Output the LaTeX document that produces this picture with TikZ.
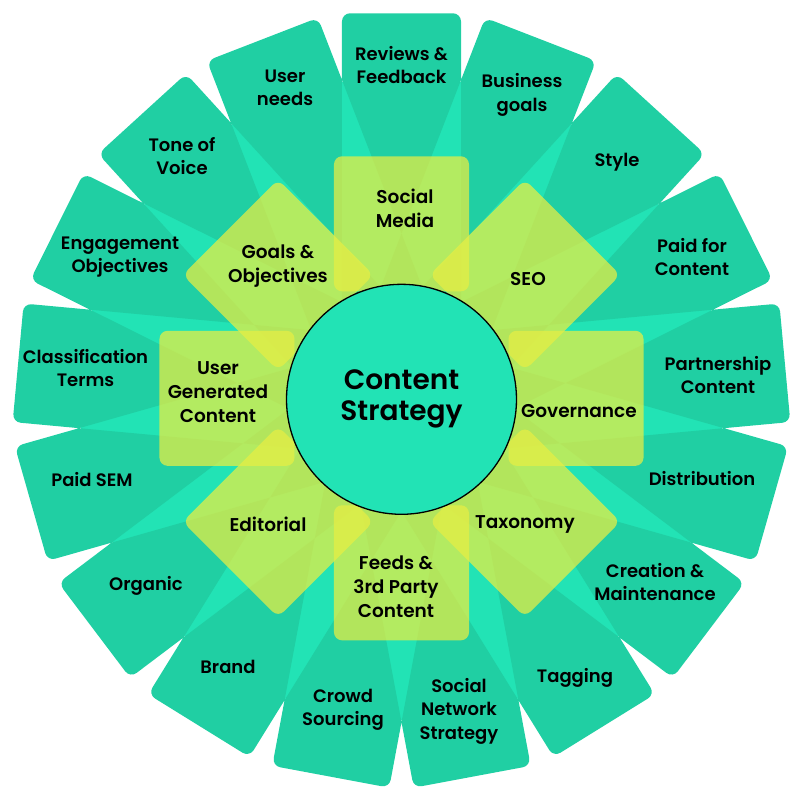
\documentclass[tikz,border=0pt]{standalone}
\usepackage{fontspec}
\setmainfont{Poppins}[BoldFont={* SemiBold}]
\definecolor{lightteal}{HTML}{22E3B5}
\definecolor{cardteal}{HTML}{20CFA3}
\definecolor{sqyellow}{HTML}{E6EE44}
\begin{document}
\begin{tikzpicture}[x=1pt,y=1pt,
  lbl/.style={align=center,font=\fontsize{18}{23.5}\selectfont\bfseries,text=black,inner sep=0pt},
  sqlbl/.style={align=center,font=\fontsize{18.5}{24}\selectfont\bfseries,text=black,inner sep=0pt},
  card/.style={fill=cardteal,even odd rule,rounded corners=8pt},
  sq/.style={fill=sqyellow,fill opacity=0.74,rounded corners=8pt}]
\useasboundingbox (-401.5,-401.7) rectangle (398.5,398.3);
% background disc
\fill[lightteal] (0,0) circle (322);
% outer cards (even-odd so overlaps show lighter)
\fill[card]
  \foreach \k [evaluate=\k as \a using {90-\k*360/17}] in {0,...,16} {
    ([rotate=\a]0,-59.5) -- ([rotate=\a]385,-59.5) -- ([rotate=\a]385,59.5) -- ([rotate=\a]0,59.5) -- cycle
  };
% inner squares
\foreach \j [evaluate=\j as \a using {90-\j*45}] in {0,...,7} {
  \fill[sq] ([rotate=\a]107,-67.5) -- ([rotate=\a]242,-67.5) -- ([rotate=\a]242,67.5) -- ([rotate=\a]107,67.5) -- cycle;
}
% centre
\node (centre) [circle,minimum size=230pt,inner sep=0pt,fill=lightteal,draw=black,line width=1.3pt,
  align=center,font=\fontsize{28}{31}\selectfont\bfseries] at (0,-1) {Content\\Strategy};
% outer labels
\node (o1)  [lbl] at (0,333.3) {Reviews \&\\Feedback};
\node (o2)  [lbl] at (120.5,303.3) {Business\\goals};
\node (o3)  [lbl] at (215.5,236.3) {Style};
\node (o4)  [lbl] at (290.5,141.3) {Paid for\\Content};
\node (o5)  [lbl] at (316.5,23.3) {Partnership\\Content};
\node (o6)  [lbl] at (300.5,-80.7) {Distribution};
\node (o7)  [lbl] at (253.5,-183.7) {Creation \&\\Maintenance};
\node (o8)  [lbl] at (173.5,-279.7) {Tagging};
\node (o9)  [lbl] at (57.5,-312.7) {Social\\Network\\Strategy};
\node (o10) [lbl] at (-58.5,-311.7) {Crowd\\Sourcing};
\node (o11) [lbl] at (-173.5,-268.7) {Brand};
\node (o12) [lbl] at (-255.5,-187.7) {Organic};
\node (o13) [lbl] at (-309.5,-81.7) {Paid SEM};
\node (o14) [lbl] at (-316,30.3) {Classification\\Terms};
\node (o15) [lbl] at (-281.5,141.3) {Engagement\\Objectives};
\node (o16) [lbl] at (-219.5,242.3) {Tone of\\Voice};
\node (o17) [lbl] at (-116.5,310.3) {User\\needs};
% inner labels
\node (i1) [sqlbl] at (3.5,190.3) {Social\\Media};
\node (i2) [sqlbl] at (126.5,119.3) {SEO};
\node (i3) [sqlbl] at (177.5,-12.7) {Governance};
\node (i4) [sqlbl] at (123.5,-125.7) {Taxonomy};
\node (i5) [sqlbl] at (-5.5,-188.7) {Feeds \&\\3rd Party\\Content};
\node (i6) [sqlbl] at (-133.5,-125.7) {Editorial};
\node (i7) [sqlbl] at (-183.5,5.8) {User\\Generated\\Content};
\node (i8) [sqlbl] at (-123.5,132.3) {Goals \&\\Objectives};
\end{tikzpicture}
\end{document}
